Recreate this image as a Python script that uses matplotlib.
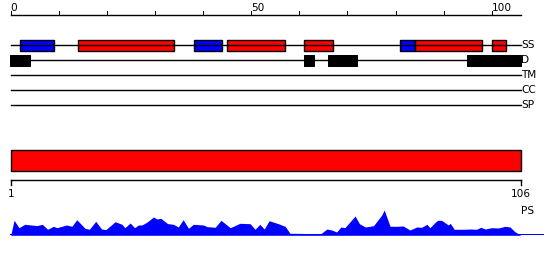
import matplotlib
matplotlib.use("Agg")
import matplotlib.pyplot as plt
from matplotlib.patches import Rectangle

# sequence length and ruler ticks
seq_len = 106
top_ticks = list(range(0, 101, 10))
top_labels = {0: "0", 50: "50", 100: "100"}
bottom_ticks = [1, 106]

# secondary structure: (start, end, type) -- H = helix (red), E = strand (blue)
ss_start = [2, 14, 38, 45, 61, 81, 84, 100]
ss_end = [9, 34, 44, 57, 67, 84, 98, 103]
ss_type = ["E", "H", "E", "H", "H", "E", "H", "H"]

# disordered regions
dis_start = [0, 61, 66, 95]
dis_end = [4, 63, 72, 106]

track_names = ["SS", "D", "TM", "CC", "SP"]

# PS profile (residue, score)
ps_pos = [1, 1.7, 2.7, 3.9, 6.4, 7.5, 8.6, 9.8, 10.5, 12.5, 13.6, 14.6, 16.3,
          17.2, 18.5, 19.7, 20.6, 22.5, 23.9, 24.5, 25.6, 26.5, 27.3, 28.0,
          29.0, 30.4, 31.1, 31.9, 33.3, 34.5, 35.5, 36.5, 37.6, 38.6, 40.7,
          41.4, 43.1, 44.3, 46.2, 48.2, 50.3, 51.3, 52.3, 53.2, 54.2, 56.1,
          57.5, 58.5, 59.5, 63.7, 64.7, 66.1, 67.1, 68.1, 69.0, 69.8, 71.9,
          72.8, 74.0, 75.7, 77.4, 77.9, 79.1, 80.5, 81.8, 83.2, 84.6, 85.6,
          86.7, 87.3, 88.4, 88.9, 89.7, 91.1, 91.5, 92.3, 94.2, 95.6, 96.9,
          97.8, 98.7, 100.0, 101.4, 102.8, 103.8, 104.8, 105.7, 106]
ps_val = [0, 15, 7.6, 11, 9.7, 11, 6, 9, 7.6, 10.3, 9, 15.6, 7,
          6, 14, 6.3, 5.7, 13.6, 11, 7.6, 12.3, 7.6, 10.3, 10.3,
          13, 18.3, 16.3, 17, 11.7, 11, 8.3, 15.6, 7, 11, 10.3,
          8.7, 8, 15, 7.6, 12, 11.6, 6, 11, 6.3, 14.6, 11.6,
          9, 2, 2, 1.6, 1, 6.3, 5.3, 3.3, 8.3, 7.6, 19.3,
          11.6, 8.3, 9.6, 20.3, 25.3, 9, 9, 9.3, 5.3, 8.3, 8,
          11, 7.6, 13, 15, 15, 10.3, 12, 6, 6, 6.3, 6,
          8, 6.3, 7.6, 7.3, 9, 8.3, 3.6, 1, 0]

W, H = 550, 260
x0_px, x1_px = 10.7, 520.7
px = 0.72  # one pixel in points

fig = plt.figure(figsize=(W / 100, H / 100), dpi=100)

# top part: ruler 0..106 plus feature tracks (y in pixels, downwards)
ax = fig.add_axes([0, 0, 1, 1])
scale = (x1_px - x0_px) / seq_len
ax.set_xlim(-x0_px / scale, (W - x0_px) / scale)
ax.set_ylim(H, 0)
ax.axis("off")

font = dict(family="DejaVu Sans", fontsize=7.6)

ax.plot([0, seq_len], [15, 15], color="black", lw=1.4 * px)
for t in top_ticks:
    ax.plot([t, t], [15, 10.5], color="black", lw=px)
    if t in top_labels:
        ax.text(t, 11, top_labels[t], ha="left", va="baseline", **font)

track_y = [45, 60, 75, 90, 105]
for name, y in zip(track_names, track_y):
    ax.plot([0, seq_len], [y, y], color="black", lw=1.4 * px)
    ax.text(seq_len + 0.1, y, name, ha="left", va="center", **font)

for s, e, t in zip(ss_start, ss_end, ss_type):
    c = "#ff0000" if t == "H" else "#0000ff"
    ax.add_patch(Rectangle((s, 40), e - s, 10.5, facecolor=c, edgecolor="black", lw=1.4 * px))

for s, e in zip(dis_start, dis_end):
    ax.add_patch(Rectangle((s - 0.1, 55), e - s + 0.1, 10.5, facecolor="black", edgecolor="black", lw=px))

# full-length domain bar
ax.add_patch(Rectangle((0, 150), seq_len, 20.5, facecolor="#ff0000", edgecolor="black", lw=1.4 * px))

# bottom ruler 1..106
ax2 = fig.add_axes([0, 0, 1, 1])
scale2 = (x1_px - x0_px) / (bottom_ticks[1] - bottom_ticks[0])
ax2.set_xlim(bottom_ticks[0] - x0_px / scale2, bottom_ticks[0] + (W - x0_px) / scale2)
ax2.set_ylim(H, 0)
ax2.axis("off")
ax2.plot([bottom_ticks[0], bottom_ticks[1]], [180.3, 180.3], color="black", lw=1.4 * px)
for t in bottom_ticks:
    ax2.plot([t, t], [180.3, 185], color="black", lw=1.4 * px)
    ax2.text(t, 189, str(t), ha="center", va="top", **font)
ax2.text(bottom_ticks[0] + (521.5 - x0_px) / scale2, 211, "PS", ha="left", va="center", **font)

# PS profile
ax3 = fig.add_axes([0, (H - 235.3) / H, 1, 30 / H])
ax3.set_xlim(ax2.get_xlim())
ax3.set_ylim(0, 30)
ax3.axis("off")
ax3.fill_between(ps_pos, 0, ps_val, color="#0000ff", lw=0)
ax3.plot([ps_pos[0], bottom_ticks[0] + (543 - x0_px) / scale2], [0.4, 0.4], color="#0000ff", lw=2 * px)

fig.savefig("out.png", dpi=100)
